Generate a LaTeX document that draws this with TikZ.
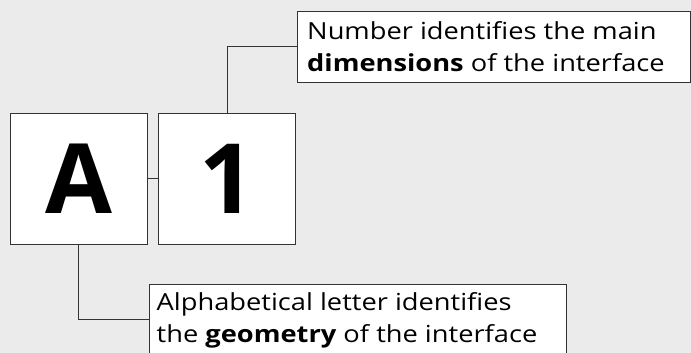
\documentclass[tikz,border=0pt]{standalone}
\usepackage{fontspec}
\setmainfont{Open Sans}
\newfontfamily\widesans{Open Sans}[FakeStretch=1.16]
\definecolor{bg}{HTML}{EBEBEB}
\definecolor{ln}{HTML}{333333}
\begin{document}
\begin{tikzpicture}[x=1pt,y=-1pt,
  codebox/.style={draw=ln, line width=1pt, fill=white, minimum width=137.3pt, minimum height=130.7pt, inner sep=0pt, font=\fontsize{97}{97}\selectfont\bfseries},
  labelbox/.style={draw=ln, line width=1pt, fill=white, inner sep=0pt, anchor=north west},
  labeltext/.style={anchor=west, align=left, inner sep=0pt, font=\widesans\fontsize{23.5}{32}\selectfont},
  conn/.style={draw=ln, line width=1pt}]
\fill[bg] (0,0) rectangle (691,353);
\useasboundingbox (0,0) rectangle (691,353);
\node[codebox] (A) at (78.7,178.7) {A};
\node[codebox] (one) at (227.3,178.7) {1};
\node[labelbox, minimum width=393pt, minimum height=71pt] (top) at (297.3,10.7) {};
\node[labelbox, minimum width=417pt, minimum height=70pt] (bot) at (148.7,284.3) {};
\node[labeltext] (toptext) at (307,47) {Number identifies the main\\\textbf{dimensions} of the interface};
\node[labeltext] (bottext) at (156.5,320) {Alphabetical letter identifies\\the \textbf{geometry} of the interface};
\draw[conn] (A.east) -- (one.west);
\draw[conn] (one.north) |- (top.west);
\draw[conn] (A.south) |- (bot.west);
\end{tikzpicture}
\end{document}
